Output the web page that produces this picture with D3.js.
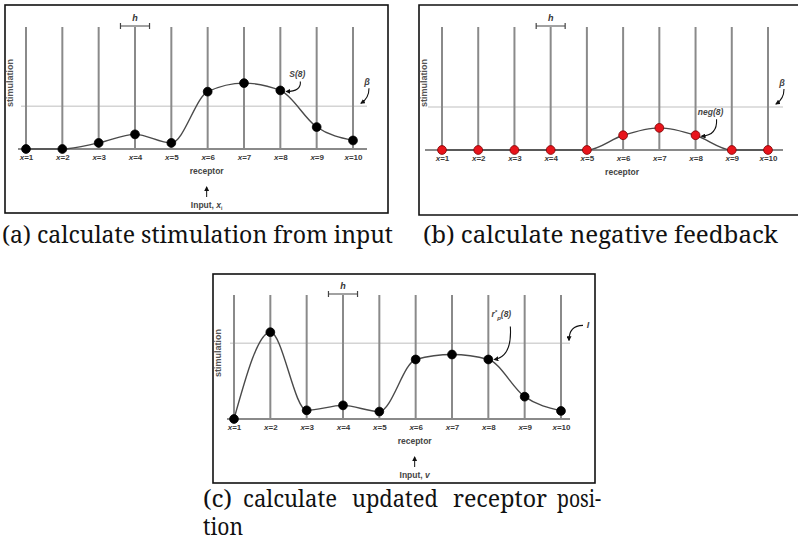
<!DOCTYPE html>
<html><head><meta charset="utf-8">
<script src="https://cdn.jsdelivr.net/npm/d3@7"></script>
<style>body{margin:0;background:#fff}</style>
</head><body>
<svg id="chart" width="798" height="550"></svg>
<script>
// ---- data ----
const categories = [1,2,3,4,5,6,7,8,9,10];
const tickLabels = categories.map(d => "=" + d);
const stimulation = [0, 0, 0.05, 0.12, 0.05, 0.47, 0.54, 0.48, 0.18, 0.07];
const negFeedback = [0, 0, 0, 0, 0, 0.12, 0.18, 0.12, 0, 0];
const updatedPos  = [0, 0.70, 0.07, 0.11, 0.06, 0.48, 0.52, 0.48, 0.18, 0.065];
const betaLevel = 0.35;
const iLevel = 0.61;
const captions = ["(a) calculate stimulation from input", "(b) calculate negative feedback"];
const captionCWords = ["(c)", "calculate", "updated", "receptor", "posi-"];
const captionCLine2 = "tion";

const svg = d3.select("#chart");
svg.append("defs").append("marker")
  .attr("id","ah").attr("viewBox","0 0 10 10").attr("refX",8).attr("refY",5)
  .attr("markerWidth",5).attr("markerHeight",5).attr("orient","auto-start-reverse")
  .attr("markerUnits","userSpaceOnUse")
  .append("path").attr("d","M0,0 L10,5 L0,10 z").attr("fill","#111");

const SANS = "Liberation Sans";
const SERIF = "Noto Serif";

function panel(cfg) {
  const g = svg.append("g");
  const x = d3.scaleLinear().domain([1,10]).range([cfg.x0, cfg.x1]);
  const y = d3.scaleLinear().domain([0,1]).range([cfg.base, cfg.top]);

  const f = cfg.frame;
  if (f.open) {
    g.append("path").attr("d", `M${f.r},${f.t} L${f.l},${f.t} L${f.l},${f.b} L${f.r},${f.b}`)
      .attr("fill","none").attr("stroke","#111").attr("stroke-width",1.6);
  } else {
    g.append("rect").attr("x",f.l).attr("y",f.t).attr("width",f.r-f.l).attr("height",f.b-f.t)
      .attr("fill","none").attr("stroke","#111").attr("stroke-width",1.6);
  }

  g.append("line").attr("x1",cfg.lx0).attr("x2",cfg.lx1)
    .attr("y1",y(cfg.thr)).attr("y2",y(cfg.thr))
    .attr("stroke","#d4d4d4").attr("stroke-width",1.5);

  g.selectAll(".vl").data(categories).join("line")
    .attr("x1",d=>x(d)).attr("x2",d=>x(d)).attr("y1",y(0)).attr("y2",y(1))
    .attr("stroke","#8a8a8a").attr("stroke-width",2);

  g.append("line").attr("x1",cfg.lx0-3).attr("x2",cfg.lx1)
    .attr("y1",y(0)).attr("y2",y(0)).attr("stroke","#8a8a8a").attr("stroke-width",2);

  const hx = x(4), hw = (x(2)-x(1))*0.4, hy = y(1)-1;
  g.append("path").attr("d",`M${hx-hw},${hy-3} V${hy+3} M${hx-hw},${hy} H${hx+hw} M${hx+hw},${hy-3} V${hy+3}`)
    .attr("stroke","#444").attr("stroke-width",1.2).attr("fill","none");
  g.append("text").attr("x",hx).attr("y",hy-5).attr("text-anchor","middle")
    .attr("font-family",SANS).attr("font-size",9).attr("font-weight","bold").attr("font-style","italic")
    .attr("fill","#333").text("h");

  const ax = g.append("g").attr("transform",`translate(0,${y(0)})`)
    .call(d3.axisBottom(x).tickValues(categories).tickSize(0).tickPadding(5).tickFormat((d,i)=>tickLabels[i]));
  ax.select(".domain").remove();
  ax.attr("font-family",SANS).attr("font-size",8);
  ax.selectAll("text").attr("font-weight","bold").attr("fill","#3a3a3a")
    .each(function(d,i){
      const t = d3.select(this); t.text(null);
      t.append("tspan").attr("font-style","italic").text("x");
      t.append("tspan").text(tickLabels[i]);
    });

  g.append("text").attr("x",x(6)-1).attr("y",y(0)+25).attr("text-anchor","middle")
    .attr("font-family",SANS).attr("font-size",8.5).attr("font-weight","bold").attr("fill","#444").text("receptor");
  g.append("text").attr("transform",`translate(${cfg.ylabX},${cfg.ylabY}) rotate(-90)`).attr("text-anchor","middle")
    .attr("font-family",SANS).attr("font-size",9).attr("font-weight","bold").attr("fill","#555").text("stimulation");

  const vals = cfg.values;
  const line = d3.line().x((d,i)=>x(categories[i])).y(d=>y(d)).curve(d3.curveMonotoneX);
  g.append("path").attr("d",line(vals)).attr("fill","none").attr("stroke","#4a4a4a").attr("stroke-width",1.4);

  g.selectAll(".pt").data(vals).join("circle")
    .attr("cx",(d,i)=>x(categories[i])).attr("cy",d=>y(d)).attr("r",4.4)
    .attr("fill",cfg.dot).attr("stroke",cfg.dotStroke).attr("stroke-width",0.8);

  if (cfg.input) {
    g.append("path").attr("d",`M${x(6)-1},${y(0)+48} V${y(0)+38}`)
      .attr("stroke","#111").attr("stroke-width",1).attr("marker-end","url(#ah)");
    const it = g.append("text").attr("x",x(6)-1).attr("y",y(0)+59).attr("text-anchor","middle")
      .attr("font-family",SANS).attr("font-size",8.5).attr("font-weight","bold").attr("fill","#444");
    it.append("tspan").text("Input, ");
    it.append("tspan").attr("font-style","italic").text(cfg.input[0]);
    if (cfg.input[1]) it.append("tspan").attr("font-size",5).attr("dy",2).text(cfg.input[1]);
  }
  return {g, x, y};
}

function arrow(g, d) {
  g.append("path").attr("d",d).attr("fill","none").attr("stroke","#111").attr("stroke-width",1.1)
    .attr("marker-end","url(#ah)");
}
function label(g, px, py, parts, size) {
  const t = g.append("text").attr("x",px).attr("y",py).attr("text-anchor","middle")
    .attr("font-family",SANS).attr("font-size",size||8.5).attr("font-weight","bold").attr("font-style","italic").attr("fill","#444");
  parts.forEach(p => {
    const s = t.append("tspan").text(p.t);
    if (p.fs) s.attr("font-size",p.fs);
    if (p.dy) s.attr("dy",p.dy);
  });
  return t;
}

// ---- panel (a) ----
const A = panel({frame:{l:5,t:5,r:388,b:213}, x0:26, x1:353, base:149, top:27,
  lx0:21, lx1:367, thr:betaLevel, values:stimulation, dot:"#000", dotStroke:"#000",
  ylabX:13, ylabY:83, input:["x","i"]});
{
  const px = A.x(8), py = A.y(stimulation[7]);
  label(A.g, px+17, py-13, [{t:"S(8)"}]);
  arrow(A.g, `M${px+20},${py-9} Q${px+21},${py+1} ${px+6},${py+1}`);
  const by = A.y(betaLevel);
  label(A.g, 367, by-21, [{t:"β"}], 9);
  arrow(A.g, `M369,${by-18} Q369,${by-8} ${361},${by-3}`);
}

// ---- panel (b) ----
const B = panel({frame:{l:419,t:5,r:800,b:215,open:true}, x0:442, x1:768, base:150, top:27,
  lx0:428, lx1:783, thr:betaLevel, values:negFeedback, dot:"#e8141b", dotStroke:"#7a0000",
  ylabX:427, ylabY:83, input:null});
{
  const px = B.x(8), py = B.y(negFeedback[7]);
  label(B.g, px+15, py-20, [{t:"neg(8)"}]);
  arrow(B.g, `M${px+21},${py-16} Q${px+22},${py} ${px+6},${py+1}`);
  const by = B.y(betaLevel);
  label(B.g, 782, by-21, [{t:"β"}], 9);
  arrow(B.g, `M784,${by-18} Q784,${by-8} ${776},${by-3}`);
}

// ---- panel (c) ----
const C = panel({frame:{l:213,t:274,r:595,b:483}, x0:234, x1:561, base:419, top:295,
  lx0:230, lx1:570, thr:iLevel, values:updatedPos, dot:"#000", dotStroke:"#000",
  ylabX:221, ylabY:353, input:["v"]});
{
  const px = C.x(8), py = C.y(updatedPos[7]);
  label(C.g, px+13, py-42, [{t:"r"},{t:"*",fs:6,dy:-3},{t:"p",fs:6,dy:6},{t:"(8)",dy:-3}]);
  arrow(C.g, `M${px+22},${py-33} Q${px+24},${py-3} ${px+6},${py}`);
  const iy = C.y(iLevel);
  label(C.g, 588, iy-15, [{t:"I"}], 9);
  arrow(C.g, `M583,${iy-18} Q569,${iy-18} ${569},${iy-3}`);
}

// ---- captions ----
function cap(x, y, txt, len) {
  svg.append("text").attr("x",x).attr("y",y).attr("font-family",SERIF).attr("font-size",23)
    .attr("fill","#111").attr("textLength",len).attr("lengthAdjust","spacingAndGlyphs").text(txt);
}
cap(2, 243, captions[0], 391);
cap(423, 243, captions[1], 355);
const cWords = [[203,29],[243,94],[352,86],[453,94],[557,44]];
captionCWords.forEach((w,i) => cap(cWords[i][0], 507, w, cWords[i][1]));
cap(203, 535, captionCLine2, 40);
</script>
</body></html>
